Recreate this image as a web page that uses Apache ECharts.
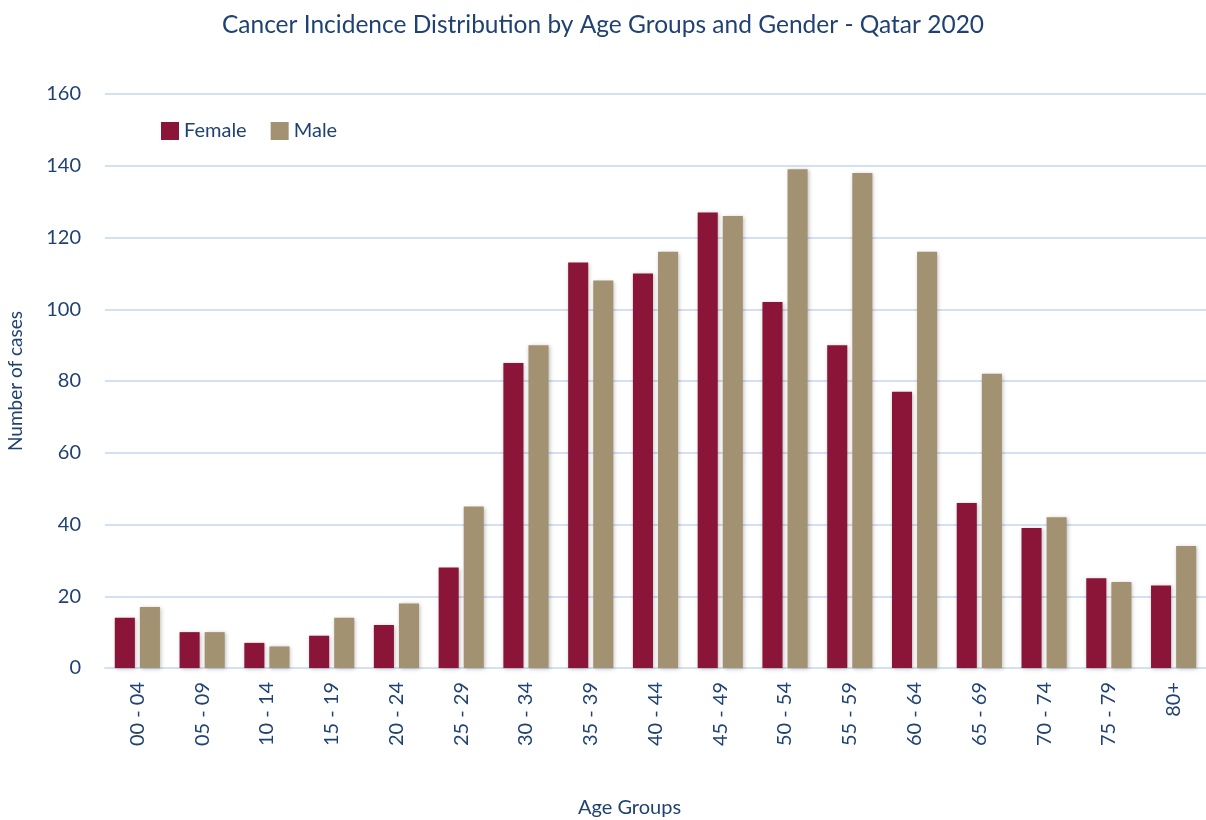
<!DOCTYPE html>
<html>
<head>
<meta charset="utf-8">
<script src="https://cdn.jsdelivr.net/npm/echarts@6/dist/echarts.min.js"></script>
<style>
  html, body { margin: 0; padding: 0; background: #fff; }
  #chart { width: 1206px; height: 820px; }
</style>
</head>
<body>
<div id="chart"></div>
<script>
var ageGroups = ['00 - 04', '05 - 09', '10 - 14', '15 - 19', '20 - 24', '25 - 29', '30 - 34', '35 - 39',
    '40 - 44', '45 - 49', '50 - 54', '55 - 59', '60 - 64', '65 - 69', '70 - 74', '75 - 79', '80+'];
var female = [14, 10, 7, 9, 12, 28, 85, 113, 110, 127, 102, 90, 77, 46, 39, 25, 23];
var male = [17, 10, 6, 14, 18, 45, 90, 108, 116, 126, 139, 138, 116, 82, 42, 24, 34];

var textColor = '#1f4273';
var fontFam = 'Lato, "Noto Sans", sans-serif';

var myChart = echarts.init(document.getElementById('chart'));

function barStyle(color) {
    return {
        color: color,
        shadowColor: 'rgba(0,0,0,0.25)',
        shadowBlur: 4,
        shadowOffsetX: 1,
        shadowOffsetY: 1
    };
}

var option = {
    animation: false,
    textStyle: { fontFamily: fontFam },
    title: {
        text: 'Cancer Incidence Distribution by Age Groups and Gender - Qatar 2020',
        left: 'center',
        top: 8,
        textStyle: {
            color: textColor,
            fontSize: 24.5,
            fontWeight: 'normal',
            fontFamily: fontFam
        }
    },
    legend: {
        data: ['Female', 'Male'],
        left: 156,
        top: 116,
        itemWidth: 18,
        itemHeight: 18,
        itemGap: 24,
        icon: 'rect',
        textStyle: { color: textColor, fontSize: 20, fontFamily: fontFam }
    },
    grid: {
        left: 105,
        right: 0,
        top: 94,
        bottom: 152,
        containLabel: false,
        outerBoundsMode: 'none'
    },
    xAxis: {
        type: 'category',
        data: ageGroups,
        name: 'Age Groups',
        nameLocation: 'middle',
        nameGap: 130,
        nameTextStyle: { color: textColor, fontSize: 20, fontFamily: fontFam, padding: [0, 52, 0, 0] },
        axisLine: { lineStyle: { color: '#d3e1f2', width: 2 } },
        axisTick: { show: false },
        axisLabel: {
            rotate: 90,
            color: textColor,
            fontSize: 20,
            margin: 14,
            fontFamily: fontFam
        }
    },
    yAxis: {
        type: 'value',
        min: 0,
        max: 160,
        interval: 20,
        name: 'Number of cases',
        nameLocation: 'middle',
        nameGap: 80,
        nameTextStyle: { color: textColor, fontSize: 19, fontFamily: fontFam },
        axisLine: { show: false },
        axisTick: { show: false },
        axisLabel: { color: textColor, fontSize: 20, margin: 24, fontFamily: fontFam },
        splitLine: { lineStyle: { color: '#d3e1f2', width: 2 } }
    },
    series: [
        {
            name: 'Female',
            type: 'bar',
            data: female,
            barWidth: '31%',
            barGap: '25%',
            itemStyle: barStyle('#8a1538')
        },
        {
            name: 'Male',
            type: 'bar',
            data: male,
            barWidth: '31%',
            itemStyle: barStyle('#a29271')
        }
    ]
};
myChart.setOption(option);
</script>
</body>
</html>
